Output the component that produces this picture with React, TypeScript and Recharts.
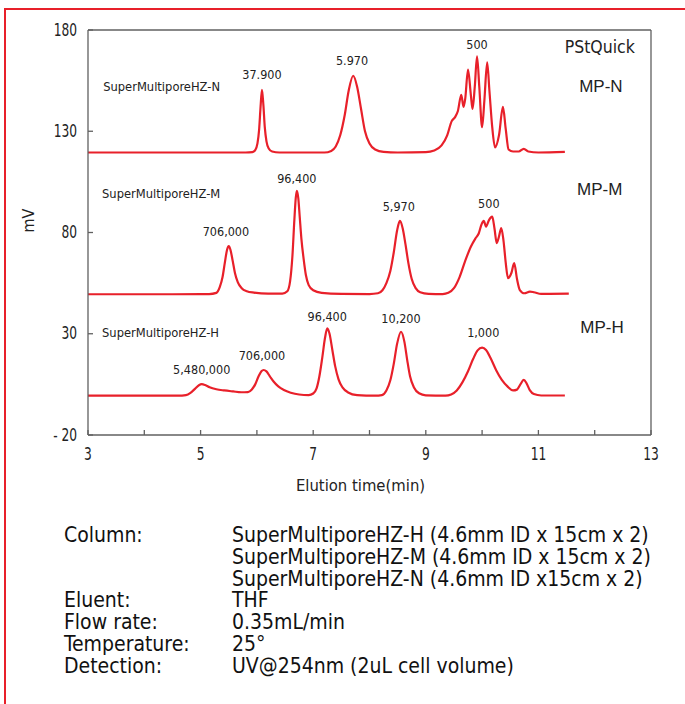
import React from 'react';
import { LineChart, Line, XAxis, YAxis, ReferenceLine, ReferenceDot, Label } from 'recharts';

// Elution time (min) / signal (mV) pairs
const traceN: [number, number][] = [
  [3.0,119.5],[4.5,119.5],[5.8,119.5],[5.92,119.7],[5.97,120.7],[6.01,124],[6.04,131],[6.065,142],[6.09,150.5],[6.115,143],[6.14,132],[6.17,125],[6.21,121.5],[6.27,120],[6.4,119.5],
  [7.2,119.5],[7.32,120.3],[7.4,122.5],[7.48,128],[7.56,138],[7.63,150],[7.71,157.4],[7.78,152],[7.85,141],[7.92,130],[8.0,124],[8.1,121],[8.25,119.8],[8.5,119.5],
  [9.0,119.7],[9.15,120.5],[9.28,123],[9.38,128],[9.46,135],[9.52,137],[9.57,140],[9.63,148],[9.67,142],[9.7,146],[9.75,160.5],[9.8,148],[9.83,141],[9.87,152],[9.91,167],[9.95,152],[10.0,132],[10.04,145],[10.09,164],[10.13,150],[10.18,132],[10.23,122],[10.3,128],[10.37,142],[10.42,131],[10.47,121],[10.55,120],[10.65,120],[10.74,121.3],[10.82,120],[11.0,119.5],[11.47,119.8],
];

const traceM: [number, number][] = [
  [3.0,49.5],[4.5,49.5],[5.15,49.6],[5.28,50.2],[5.34,53],[5.39,58],[5.43,65],[5.47,71.5],[5.5,73.3],[5.53,71.5],[5.57,66],[5.61,60],[5.66,55.5],[5.73,52.5],[5.82,51],[5.95,50.3],[6.2,49.8],
  [6.45,49.8],[6.54,51],[6.59,56],[6.63,68],[6.665,86],[6.69,97],[6.71,100.6],[6.735,97],[6.76,88],[6.79,77],[6.83,67],[6.87,59],[6.92,54],[7.0,51.5],[7.15,50.2],[7.5,49.7],
  [8.0,49.6],[8.15,50],[8.23,51.5],[8.3,55],[8.37,61],[8.43,70],[8.49,81],[8.54,85.7],[8.59,82],[8.64,74],[8.69,65],[8.75,57],[8.82,52.5],[8.9,50.5],[9.05,49.7],[9.3,49.6],
  [9.4,50.2],[9.5,52.5],[9.6,58],[9.7,66],[9.8,73],[9.88,77],[9.94,79.5],[9.99,84],[10.03,85.7],[10.07,82.9],[10.12,86],[10.18,87.8],[10.22,82],[10.26,74.8],[10.3,78],[10.34,82.2],[10.38,76],[10.42,65],[10.46,57.5],[10.52,60],[10.57,64.9],[10.62,57],[10.67,51.6],[10.75,50],[10.85,50.8],[10.92,50.5],[11.05,49.7],[11.54,49.8],
];

const traceH: [number, number][] = [
  [3.0,-0.6],[4.6,-0.6],[4.74,-0.3],[4.82,0.8],[4.9,2.8],[4.97,4.6],[5.02,5.1],[5.08,4.7],[5.16,3.6],[5.28,2.6],[5.42,2.0],[5.58,1.5],[5.72,1.1],
  [5.84,1.2],[5.91,2.5],[5.97,5],[6.03,9],[6.08,11.5],[6.12,12.1],[6.17,11.4],[6.23,9],[6.3,6.3],[6.38,4],[6.48,2.2],[6.6,0.9],[6.75,0],[6.92,-0.3],
  [7.0,0.5],[7.06,3],[7.11,9],[7.16,18],[7.21,28],[7.25,32.7],[7.29,30],[7.34,22],[7.39,14],[7.45,7.5],[7.52,3.5],[7.62,1],[7.78,-0.3],[8.1,-0.6],
  [8.22,-0.3],[8.3,2],[8.37,7],[8.43,15],[8.49,25],[8.56,31],[8.62,26],[8.67,17],[8.72,9],[8.79,3.5],[8.88,0.6],[9.0,-0.4],[9.35,-0.6],
  [9.45,0],[9.55,2],[9.65,6],[9.75,11.5],[9.84,17.5],[9.92,21.8],[10.0,23.1],[10.07,22],[10.15,18],[10.25,12],[10.35,7.2],[10.45,4],[10.55,2],[10.62,2.4],[10.68,5],[10.74,7.2],[10.79,5.5],[10.85,2],[10.92,0.2],[11.05,-0.5],[11.47,-0.5],
];

const xTicks = [3, 4, 5, 6, 7, 8, 9, 10, 11, 12, 13];
const yTicks = [-20, 30, 80, 130, 180];

// annotation text, placed in data coordinates (time, mV)
const annotations: { t: number; v: number; text: string; kind: string }[] = [
  { t: 3.27, v: 152.3, text: 'SuperMultiporeHZ-N', kind: 'col' },
  { t: 6.09, v: 157.8, text: '37.900', kind: 'peak' },
  { t: 7.69, v: 164.7, text: '5.970', kind: 'peak' },
  { t: 9.91, v: 172.6, text: '500', kind: 'peak' },
  { t: 12.09, v: 171.6, text: 'PStQuick', kind: 'big' },
  { t: 12.11, v: 152.3, text: 'MP-N', kind: 'mp' },
  { t: 3.25, v: 99.5, text: 'SuperMultiporeHZ-M', kind: 'col' },
  { t: 6.71, v: 106.9, text: '96,400', kind: 'peak' },
  { t: 5.45, v: 80.7, text: '706,000', kind: 'peak' },
  { t: 8.52, v: 92.6, text: '5,970', kind: 'peak' },
  { t: 10.12, v: 94.1, text: '500', kind: 'peak' },
  { t: 12.09, v: 101, text: 'MP-M', kind: 'mp' },
  { t: 3.25, v: 30.4, text: 'SuperMultiporeHZ-H', kind: 'col' },
  { t: 7.25, v: 38.3, text: '96,400', kind: 'peak' },
  { t: 8.56, v: 37.3, text: '10,200', kind: 'peak' },
  { t: 10.02, v: 30.4, text: '1,000', kind: 'peak' },
  { t: 6.09, v: 19.5, text: '706,000', kind: 'peak' },
  { t: 5.02, v: 12.1, text: '5,480,000', kind: 'peak' },
  { t: 12.13, v: 33.3, text: 'MP-H', kind: 'mp' },
];

const infoLabels = ['Column:', '', '', 'Eluent:', 'Flow rate:', 'Temperature:', 'Detection:'];
const infoValues = [
  'SuperMultiporeHZ-H (4.6mm ID x 15cm x 2)',
  'SuperMultiporeHZ-M (4.6mm ID x 15cm x 2)',
  'SuperMultiporeHZ-N (4.6mm ID x15cm x 2)',
  'THF',
  '0.35mL/min',
  '25°',
  'UV@254nm (2uL cell volume)',
];

const NARROW = "'Liberation Sans Narrow', 'DejaVu Sans Condensed', 'Arial Narrow', sans-serif";
const RED = '#e8202a';
const AXIS = '#606060';

const toPts = (arr: [number, number][]) => arr.map(([t, v]) => ({ t, v }));

const styleFor = (kind: string) => {
  if (kind === 'col') return { size: 12.8, anchor: 'start', family: NARROW };
  if (kind === 'peak') return { size: 12.5, anchor: 'middle', family: NARROW };
  if (kind === 'big') return { size: 17.5, anchor: 'middle', family: NARROW };
  return { size: 17, anchor: 'middle', family: "'Liberation Sans', Arial, sans-serif" };
};

const YTick = (p: any) => {
  const v = p.payload.value as number;
  const s = v < 0 ? `- ${Math.abs(v)}` : String(v);
  return (
    <text
      transform={`translate(${p.x},${p.y}) scale(0.8,1)`}
      textAnchor="end"
      dominantBaseline="central"
      fontSize={17}
      fontFamily={NARROW}
      fill="#222"
    >
      {s}
    </text>
  );
};

const XTick = (p: any) => {
  const v = p.payload.value as number;
  if (v % 2 === 0) return <g />;
  return (
    <text
      transform={`translate(${p.x},${p.y}) scale(0.8,1)`}
      textAnchor="middle"
      dy="0.71em"
      fontSize={17}
      fontFamily={NARROW}
      fill="#222"
    >
      {String(v)}
    </text>
  );
};

export default function App() {
  return (
    <div style={{ position: 'absolute', left: 0, top: 0, width: 685, height: 704, background: '#fff', overflow: 'hidden' }}>
      <div
        style={{
          position: 'absolute', left: 4, top: 8, width: 700, height: 720,
          borderTop: `2.5px solid ${RED}`, borderLeft: `2.5px solid ${RED}`, boxSizing: 'border-box',
        }}
      />
      <div style={{ position: 'absolute', left: 0, top: 0 }}>
        <LineChart width={685} height={500} margin={{ top: 30, left: 28, right: 34, bottom: 25 }}>
          <XAxis
            type="number"
            dataKey="t"
            domain={[3, 13]}
            ticks={xTicks}
            interval={0}
            allowDataOverflow
            height={40}
            tickSize={-5}
            tickMargin={18}
            stroke={AXIS}
            strokeWidth={1.3}
            tick={<XTick />}
          >
            <Label value="Elution time(min)" position="insideBottom" offset={-16} dx={-9} fill="#222" fontSize={16.5} fontFamily={NARROW} />
          </XAxis>
          <YAxis
            type="number"
            domain={[-20, 180]}
            ticks={yTicks}
            interval={0}
            allowDataOverflow
            width={60}
            tickSize={-5}
            tickMargin={16}
            stroke={AXIS}
            strokeWidth={1.3}
            tick={<YTick />}
          >
            <Label value="mV" angle={-90} position="insideLeft" offset={0} fill="#222" fontSize={16} fontFamily={NARROW} />
          </YAxis>
          <ReferenceLine y={180} stroke={AXIS} strokeWidth={1.3} ifOverflow="visible" />
          <ReferenceLine x={13} stroke={AXIS} strokeWidth={1.3} ifOverflow="visible" />
          <Line data={toPts(traceN)} dataKey="v" type="monotone" stroke={RED} strokeWidth={2.2} dot={false} isAnimationActive={false} />
          <Line data={toPts(traceM)} dataKey="v" type="monotone" stroke={RED} strokeWidth={2.2} dot={false} isAnimationActive={false} />
          <Line data={toPts(traceH)} dataKey="v" type="monotone" stroke={RED} strokeWidth={2.2} dot={false} isAnimationActive={false} />
          {annotations.map((a, i) => {
            const s = styleFor(a.kind);
            return (
              <ReferenceDot
                key={i}
                x={a.t}
                y={a.v}
                r={0}
                ifOverflow="visible"
                shape={(p: any) => (
                  <text
                    x={p.cx}
                    y={p.cy}
                    textAnchor={s.anchor as any}
                    dominantBaseline="central"
                    fontSize={s.size}
                    fontFamily={s.family}
                    fill="#222"
                  >
                    {a.text}
                  </text>
                )}
              />
            );
          })}
        </LineChart>
      </div>
      {infoLabels.map((l, i) => (
        <div
          key={'l' + i}
          style={{
            position: 'absolute', left: 64, top: 524 + i * 21.8, lineHeight: '22px',
            fontSize: 21, fontFamily: NARROW, color: '#111', whiteSpace: 'nowrap',
          }}
        >
          {l}
        </div>
      ))}
      {infoValues.map((v, i) => (
        <div
          key={'v' + i}
          style={{
            position: 'absolute', left: 232, top: 524 + i * 21.8, lineHeight: '22px',
            fontSize: 21, fontFamily: NARROW, color: '#111', whiteSpace: 'nowrap',
          }}
        >
          {v}
        </div>
      ))}
    </div>
  );
}
